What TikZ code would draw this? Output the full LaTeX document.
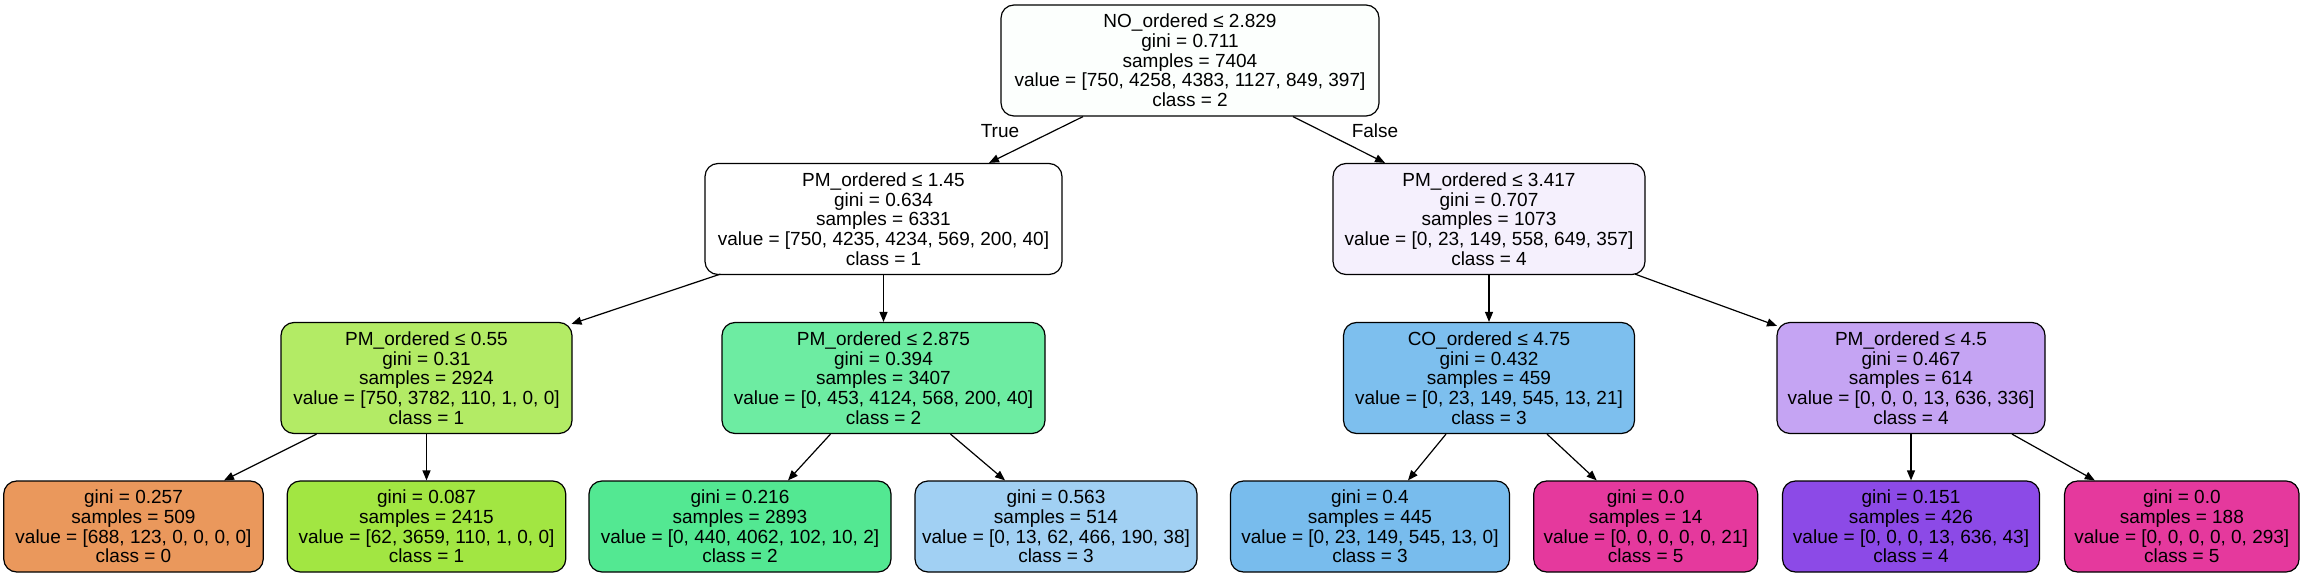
\documentclass[tikz,border=0pt]{standalone}
\usepackage{fontspec}
\setmainfont{Liberation Sans}
\usetikzlibrary{arrows.meta}
\definecolor{croot}{HTML}{FCFFFD}
\definecolor{ca}{HTML}{FFFFFF}
\definecolor{cb}{HTML}{F5F0FD}
\definecolor{cc}{HTML}{B3EB65}
\definecolor{cd}{HTML}{6DECA2}
\definecolor{ce}{HTML}{7DBFEE}
\definecolor{cf}{HTML}{C5A4F3}
\definecolor{cl1}{HTML}{EA985C}
\definecolor{cl2}{HTML}{A2E642}
\definecolor{cl3}{HTML}{53E892}
\definecolor{cl4}{HTML}{A1D0F3}
\definecolor{cl5}{HTML}{78BCED}
\definecolor{cl6}{HTML}{E5399D}
\definecolor{cl7}{HTML}{8C4AE7}
\definecolor{cl8}{HTML}{E5399D}
\tikzset{
  tree/.style={draw=black, line width=1.2pt, rounded corners=13pt, inner sep=0pt,
    align=center, font=\fontsize{19}{19.7}\selectfont},
  split/.style={tree, minimum height=111pt},
  leaf/.style={tree, minimum height=91pt},
  edge/.style={line width=1.2pt, -{Triangle[length=10pt,width=8pt]}},
  lbl/.style={font=\fontsize{19}{19.7}\selectfont, inner sep=0pt}
}
\begin{document}
\begin{tikzpicture}[x=1pt,y=-1pt]
\useasboundingbox (0,0) rectangle (2305,577);
\fill[white] (0,0) rectangle (2305,577);
% level 0
\node[split, fill=croot, minimum width=378pt] (root) at (1190,60.5)
  {NO\_ordered ≤ 2.829\\gini = 0.711\\samples = 7404\\value = [750, 4258, 4383, 1127, 849, 397]\\class = 2};
% level 1
\node[split, fill=ca, minimum width=357pt] (a) at (883.5,219)
  {PM\_ordered ≤ 1.45\\gini = 0.634\\samples = 6331\\value = [750, 4235, 4234, 569, 200, 40]\\class = 1};
\node[split, fill=cb, minimum width=312pt] (b) at (1489,219)
  {PM\_ordered ≤ 3.417\\gini = 0.707\\samples = 1073\\value = [0, 23, 149, 558, 649, 357]\\class = 4};
% level 2
\node[split, fill=cc, minimum width=291pt] (c) at (426.5,378)
  {PM\_ordered ≤ 0.55\\gini = 0.31\\samples = 2924\\value = [750, 3782, 110, 1, 0, 0]\\class = 1};
\node[split, fill=cd, minimum width=323pt] (d) at (883.5,378)
  {PM\_ordered ≤ 2.875\\gini = 0.394\\samples = 3407\\value = [0, 453, 4124, 568, 200, 40]\\class = 2};
\node[split, fill=ce, minimum width=291pt] (e) at (1489,378)
  {CO\_ordered ≤ 4.75\\gini = 0.432\\samples = 459\\value = [0, 23, 149, 545, 13, 21]\\class = 3};
\node[split, fill=cf, minimum width=268pt] (f) at (1911,378)
  {PM\_ordered ≤ 4.5\\gini = 0.467\\samples = 614\\value = [0, 0, 0, 13, 636, 336]\\class = 4};
% leaves
\node[leaf, fill=cl1, minimum width=259.5pt] (l1) at (133.5,526.5)
  {gini = 0.257\\samples = 509\\value = [688, 123, 0, 0, 0, 0]\\class = 0};
\node[leaf, fill=cl2, minimum width=278.5pt] (l2) at (426.5,526.5)
  {gini = 0.087\\samples = 2415\\value = [62, 3659, 110, 1, 0, 0]\\class = 1};
\node[leaf, fill=cl3, minimum width=302pt] (l3) at (740,526.5)
  {gini = 0.216\\samples = 2893\\value = [0, 440, 4062, 102, 10, 2]\\class = 2};
\node[leaf, fill=cl4, minimum width=282pt] (l4) at (1056,526.5)
  {gini = 0.563\\samples = 514\\value = [0, 13, 62, 466, 190, 38]\\class = 3};
\node[leaf, fill=cl5, minimum width=279pt] (l5) at (1370,526.5)
  {gini = 0.4\\samples = 445\\value = [0, 23, 149, 545, 13, 0]\\class = 3};
\node[leaf, fill=cl6, minimum width=224pt] (l6) at (1645.7,526.5)
  {gini = 0.0\\samples = 14\\value = [0, 0, 0, 0, 0, 21]\\class = 5};
\node[leaf, fill=cl7, minimum width=257pt] (l7) at (1911,526.5)
  {gini = 0.151\\samples = 426\\value = [0, 0, 0, 13, 636, 43]\\class = 4};
\node[leaf, fill=cl8, minimum width=234.5pt] (l8) at (2181.8,526.5)
  {gini = 0.0\\samples = 188\\value = [0, 0, 0, 0, 0, 293]\\class = 5};
% edge labels
\node[lbl] (tlbl) at (1000,131) {True};
\node[lbl] (flbl) at (1375,131) {False};
% edges
\draw[edge] ([xshift=-107pt]root.south) -- ([xshift=105.5pt]a.north);
\draw[edge] ([xshift=103pt]root.south) -- ([xshift=-104pt]b.north);
\draw[edge] ([xshift=-163pt,yshift=1pt]a.south) -- ([xshift=145pt,yshift=-2pt]c.north);
\draw[edge] (a.south) -- (d.north);
\draw[edge] (b.south) -- (e.north);
\draw[edge] ([xshift=146pt,yshift=1pt]b.south) -- ([xshift=-134pt,yshift=-4pt]f.north);
\draw[edge] ([xshift=-110pt]c.south) -- ([xshift=90.5pt]l1.north);
\draw[edge] (c.south) -- (l2.north);
\draw[edge] ([xshift=-53pt]d.south) -- ([xshift=48pt]l3.north);
\draw[edge] ([xshift=67pt]d.south) -- ([xshift=-51pt]l4.north);
\draw[edge] ([xshift=-43pt]e.south) -- ([xshift=38pt]l5.north);
\draw[edge] ([xshift=58pt]e.south) -- ([xshift=-49pt]l6.north);
\draw[edge] (f.south) -- (l7.north);
\draw[edge] ([xshift=101pt]f.south) -- ([xshift=-87pt]l8.north);
\end{tikzpicture}
\end{document}
